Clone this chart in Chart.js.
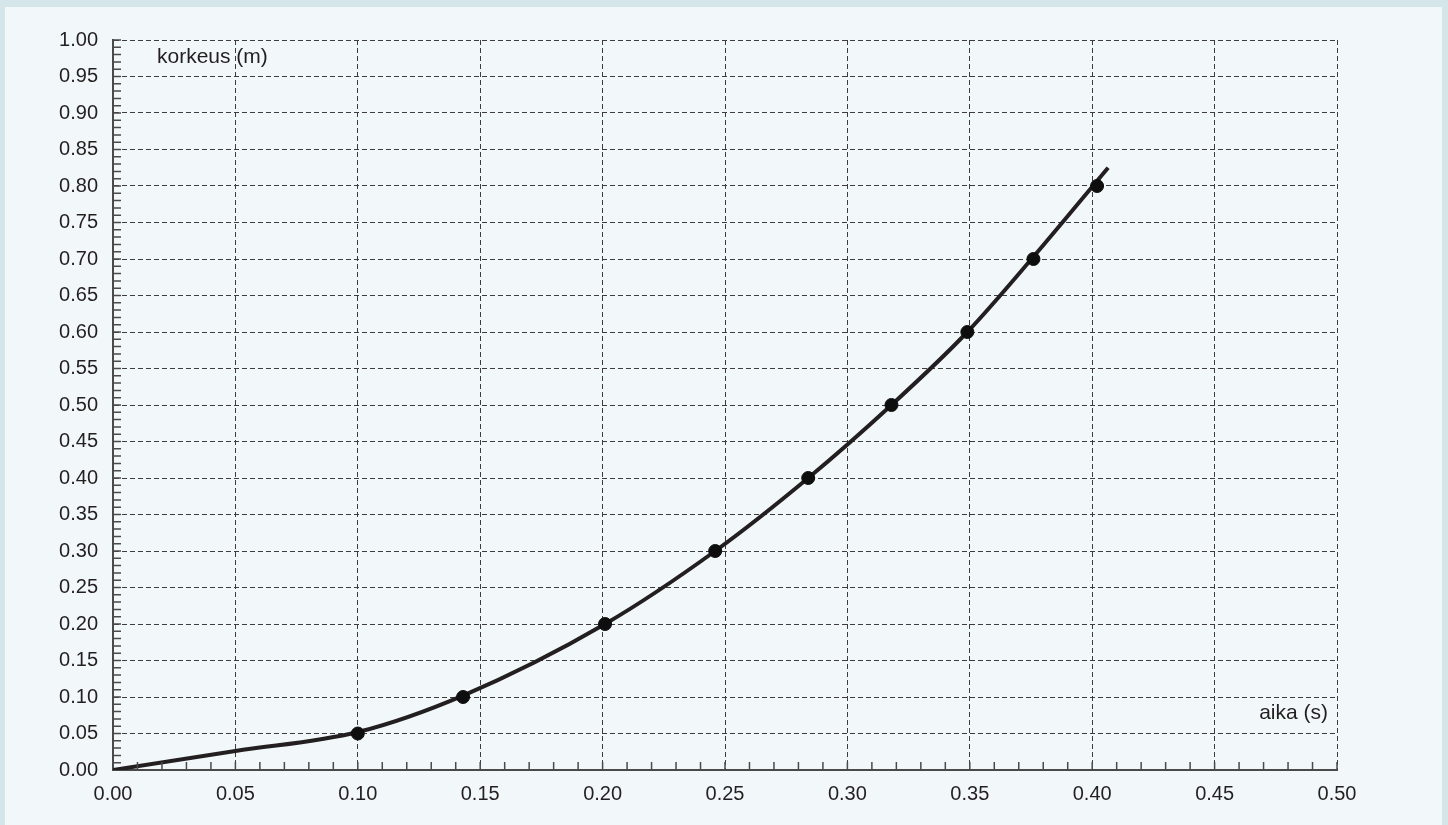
<!DOCTYPE html>
<html>
<head>
<meta charset="utf-8">
<script src="https://cdn.jsdelivr.net/npm/chart.js@4"></script>
<style>
  html, body { margin: 0; padding: 0; background: #d5e6eb; overflow: hidden; }
  #panel { position: absolute; left: 5px; top: 7px; width: 1437px; height: 818px; background: #f2f8f9; }
  #wrap { position: absolute; left: 0; top: 0; width: 1448px; height: 825px; }
</style>
</head>
<body>
<div id="panel"></div>
<div id="wrap"><canvas id="myChart" width="1448" height="825"></canvas></div>
<script>
// measured points: aika (s) vs korkeus (m)
const timeS = [0.100, 0.143, 0.201, 0.246, 0.284, 0.318, 0.349, 0.376, 0.402];
const heightM = [0.05, 0.10, 0.20, 0.30, 0.40, 0.50, 0.60, 0.70, 0.80];

// fitted curve
const curveT = [0, 0.050, 0.100, 0.143, 0.201, 0.246, 0.284, 0.318, 0.349, 0.376, 0.4065];
const curveH = [0, 0.026, 0.052, 0.102, 0.200, 0.300, 0.400, 0.500, 0.600, 0.703, 0.825];

const xLabel = 'aika (s)';
const yLabel = 'korkeus (m)';

const FONT = '"Liberation Sans", Arial, Helvetica, sans-serif';
const ink = '#231f20';

// minor ticks inside the plot and the axis titles
const extrasPlugin = {
  id: 'extras',
  afterDraw(chart) {
    const {ctx, scales: {x, y}} = chart;
    const x0 = x.getPixelForValue(0), y0 = y.getPixelForValue(0);
    ctx.save();
    ctx.strokeStyle = '#4a4a4a';
    ctx.lineWidth = 1.5;
    ctx.beginPath();
    for (let i = 1; i <= 50; i++) {
      const px = x.getPixelForValue(i / 100);
      ctx.moveTo(px, y0);
      ctx.lineTo(px, y0 - 8);
    }
    for (let i = 1; i <= 100; i++) {
      const py = y.getPixelForValue(i / 100);
      ctx.moveTo(x0, py);
      ctx.lineTo(x0 + 8, py);
    }
    ctx.stroke();

    ctx.fillStyle = ink;
    ctx.font = '21px ' + FONT;
    ctx.textBaseline = 'middle';
    ctx.textAlign = 'left';
    ctx.fillText(yLabel, x0 + 44, y.getPixelForValue(0.976));
    ctx.textAlign = 'right';
    ctx.fillText(xLabel, x.getPixelForValue(0.5) - 9, y.getPixelForValue(0.078));
    ctx.restore();
  }
};

new Chart(document.getElementById('myChart').getContext('2d'), {
  type: 'scatter',
  data: {
    datasets: [
      {
        data: curveT.map((t, i) => ({x: t, y: curveH[i]})),
        showLine: true,
        borderColor: ink,
        borderWidth: 4,
        pointRadius: 0,
        cubicInterpolationMode: 'monotone',
        order: 2
      },
      {
        data: timeS.map((t, i) => ({x: t, y: heightM[i]})),
        backgroundColor: '#0e0e0e',
        borderColor: '#0e0e0e',
        pointRadius: 6.5,
        order: 1
      }
    ]
  },
  options: {
    responsive: false,
    animation: false,
    events: [],
    layout: {padding: {left: 0, right: 111, top: 40, bottom: 0}},
    plugins: {legend: {display: false}, tooltip: {enabled: false}},
    scales: {
      x: {
        type: 'linear',
        min: 0, max: 0.5,
        afterFit(scale) { scale.height = 55; },
        ticks: {
          stepSize: 0.05,
          padding: 12,
          color: ink,
          font: {family: FONT, size: 20},
          callback: v => v.toFixed(2)
        },
        grid: {color: '#3c3c3c', lineWidth: 1, drawTicks: false},
        border: {color: '#4a4a4a', width: 2, dash: [5, 3]}
      },
      y: {
        type: 'linear',
        min: 0, max: 1,
        afterFit(scale) { scale.width = 113; },
        ticks: {
          stepSize: 0.05,
          padding: 15,
          color: ink,
          font: {family: FONT, size: 20},
          callback: v => v.toFixed(2)
        },
        grid: {color: '#3c3c3c', lineWidth: 1, drawTicks: false},
        border: {color: '#4a4a4a', width: 2, dash: [5, 3]}
      }
    }
  },
  plugins: [extrasPlugin]
});
</script>
</body>
</html>
